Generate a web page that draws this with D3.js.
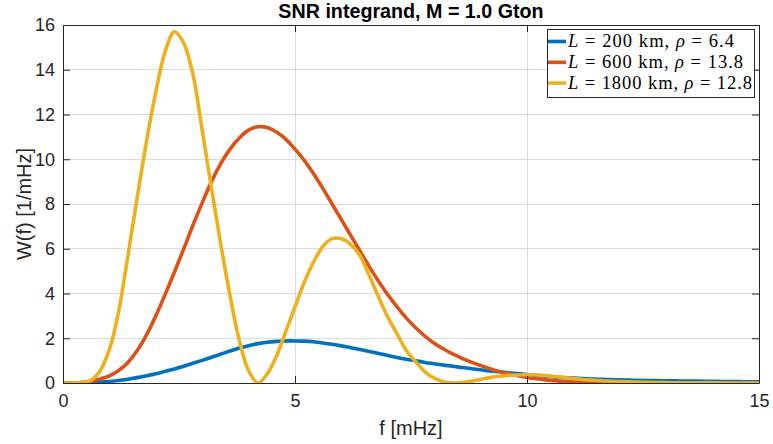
<!DOCTYPE html>
<html>
<head>
<meta charset="utf-8">
<script src="https://cdn.jsdelivr.net/npm/d3@7"></script>
<style>
  html, body { margin: 0; padding: 0; background: #fff; }
  svg { display: block; }
</style>
</head>
<body>
<svg id="chart" width="773" height="444"></svg>
<script>
// ---- data ----
const freq = d3.range(0, 76).map(i => +(i * 0.2).toFixed(1)); // 0 .. 15 mHz, step 0.2

const legendL = ["200", "600", "1800"];
const legendRho = ["6.4", "13.8", "12.8"];

const w200 = [
  0, 0, 0.005, 0.02, 0.04, 0.07, 0.11, 0.17, 0.24, 0.32,
  0.41, 0.52, 0.63, 0.75, 0.88, 1.01, 1.15, 1.29, 1.43, 1.56,
  1.67, 1.76, 1.82, 1.86, 1.88, 1.88, 1.87, 1.84, 1.79, 1.73,
  1.66, 1.58, 1.50, 1.41, 1.32, 1.23, 1.14, 1.06, 0.99, 0.92,
  0.86, 0.80, 0.75, 0.69, 0.64, 0.59, 0.54, 0.50, 0.46, 0.42,
  0.38, 0.34, 0.30, 0.27, 0.24, 0.22, 0.20, 0.18, 0.16, 0.15,
  0.14, 0.13, 0.12, 0.11, 0.105, 0.10, 0.095, 0.09, 0.085, 0.08,
  0.075, 0.07, 0.065, 0.06, 0.056, 0.052
];

const w600 = [
  0, 0, 0.02, 0.08, 0.18, 0.32, 0.56, 0.92, 1.45, 2.15,
  3.0, 3.95, 4.95, 5.98, 7.05, 8.05, 9.0, 9.8, 10.45, 10.95,
  11.3, 11.45, 11.42, 11.22, 10.9, 10.45, 9.95, 9.35, 8.7, 8.0,
  7.3, 6.6, 5.9, 5.2, 4.55, 3.95, 3.4, 2.9, 2.47, 2.1,
  1.78, 1.52, 1.3, 1.1, 0.93, 0.78, 0.64, 0.52, 0.41, 0.32,
  0.25, 0.19, 0.14, 0.10, 0.07, 0.05, 0.04, 0.03, 0.02, 0.015,
  0.01, 0.008, 0.006, 0.005, 0.004, 0.003, 0.002, 0.002, 0.001, 0.001,
  0, 0, 0, 0, 0, 0
];

const w1800 = [
  0, 0, 0.02, 0.12, 0.55, 1.5, 3.2, 5.7, 8.3, 10.8,
  13.0, 14.8, 15.7, 15.2, 13.8, 11.3, 8.7, 6.2, 3.9, 1.9,
  0.55, 0.0, 0.4, 1.2, 2.3, 3.4, 4.5, 5.4, 6.1, 6.45,
  6.45, 6.2, 5.7, 4.8, 3.85, 2.95, 2.2, 1.45, 0.95, 0.5,
  0.22, 0.06, 0.0, 0.02, 0.08, 0.16, 0.24, 0.30, 0.34, 0.36,
  0.37, 0.36, 0.33, 0.29, 0.24, 0.20, 0.16, 0.13, 0.10, 0.08,
  0.06, 0.05, 0.04, 0.03, 0.02, 0.015, 0.012, 0.01, 0.008, 0.006,
  0.004, 0.003, 0.002, 0.001, 0, 0
];

const xTicks = [0, 5, 10, 15];
const yTicks = [0, 2, 4, 6, 8, 10, 12, 14, 16];
const colors = ["#0072BD", "#D95319", "#EDB120"];

// ---- layout ----
const svg = d3.select("#chart");
const L = 63, R = 759, T = 25, B = 383;
const x = d3.scaleLinear().domain([0, 15]).range([L, R]);
const y = d3.scaleLinear().domain([0, 16]).range([B, T]);
const axisColor = "#262626";
const font = "'Liberation Sans', Arial, Helvetica, sans-serif";

// grid
const grid = svg.append("g");
grid.selectAll("line.gx").data(xTicks.slice(1, -1)).enter().append("line")
  .attr("x1", d => x(d)).attr("x2", d => x(d)).attr("y1", T).attr("y2", B)
  .attr("stroke", "#dcdcdc").attr("stroke-width", 1).attr("shape-rendering", "crispEdges");
grid.selectAll("line.gy").data(yTicks.slice(1, -1)).enter().append("line")
  .attr("x1", L).attr("x2", R).attr("y1", d => y(d)).attr("y2", d => y(d))
  .attr("stroke", "#dcdcdc").attr("stroke-width", 1).attr("shape-rendering", "crispEdges");

// lines
svg.append("clipPath").attr("id", "clip").append("rect")
  .attr("x", L).attr("y", T - 2).attr("width", R - L).attr("height", B - T + 2);
const line = d3.line().x(d => x(d[0])).y(d => y(Math.max(0, d[1])))
  .curve(d3.curveCatmullRom.alpha(0.5));
const allSeries = [w200, w600, w1800];
svg.append("g").attr("clip-path", "url(#clip)")
  .selectAll("path").data(allSeries).enter().append("path")
  .attr("d", s => line(freq.map((f, i) => [f, s[i]])))
  .attr("fill", "none")
  .attr("stroke", (d, i) => colors[i])
  .attr("stroke-width", 3.6)
  .attr("stroke-linejoin", "round");

// axes (MATLAB-like box with inward ticks)
const tickLen = 7;
const xAxisB = d3.axisBottom(x).tickValues(xTicks).tickSizeInner(-tickLen).tickSizeOuter(0).tickPadding(11);
const yAxisL = d3.axisLeft(y).tickValues(yTicks).tickSizeInner(-tickLen).tickSizeOuter(0).tickPadding(8);
const xAxisT = d3.axisTop(x).tickValues(xTicks).tickSizeInner(-tickLen).tickSizeOuter(0).tickFormat("");
const yAxisR = d3.axisRight(y).tickValues(yTicks).tickSizeInner(-tickLen).tickSizeOuter(0).tickFormat("");

function styleAxis(g) {
  g.select(".domain").attr("stroke", axisColor).attr("stroke-width", 1);
  g.selectAll(".tick line").attr("stroke", axisColor).attr("stroke-width", 1);
  g.selectAll(".tick text").attr("fill", axisColor).style("font-family", font).style("font-size", "18px");
}
svg.append("g").attr("transform", `translate(0,${B})`).call(xAxisB).call(styleAxis);
svg.append("g").attr("transform", `translate(${L},0)`).call(yAxisL).call(styleAxis);
svg.append("g").attr("transform", `translate(0,${T})`).call(xAxisT).call(styleAxis);
svg.append("g").attr("transform", `translate(${R},0)`).call(yAxisR).call(styleAxis);

// title and labels
svg.append("text").attr("x", (L + R) / 2).attr("y", 18).attr("text-anchor", "middle")
  .style("font-family", font).style("font-size", "19.7px").style("font-weight", "bold")
  .attr("fill", "#000").text("SNR integrand, M = 1.0 Gton");
svg.append("text").attr("x", (L + R) / 2).attr("y", 435).attr("text-anchor", "middle")
  .style("font-family", font).style("font-size", "20px").attr("fill", axisColor).text("f [mHz]");
svg.append("text").attr("transform", `translate(31,${(T + B) / 2}) rotate(-90)`).attr("text-anchor", "middle")
  .style("font-family", font).style("font-size", "20px").attr("fill", axisColor).text("W(f) [1/mHz]");

// legend
const lg = svg.append("g");
lg.append("rect").attr("x", 547.5).attr("y", 29.5).attr("width", 207).attr("height", 68)
  .attr("fill", "#fff").attr("stroke", axisColor).attr("stroke-width", 1);
const serif = "'Liberation Serif', 'DejaVu Serif', serif";
const legendWidths = [166, 175, 184];
allSeries.forEach((s, i) => {
  const cy = 41.5 + i * 20.8;
  lg.append("line").attr("x1", 548).attr("x2", 566).attr("y1", cy).attr("y2", cy)
    .attr("stroke", colors[i]).attr("stroke-width", 3.6);
  const t = lg.append("text").attr("x", 568).attr("y", cy + 5.5)
    .attr("textLength", legendWidths[i]).attr("lengthAdjust", "spacing")
    .style("font-family", serif).style("font-size", "18.5px").attr("fill", "#000");
  t.append("tspan").style("font-style", "italic").text("L");
  t.append("tspan").text(" = " + legendL[i] + " km, ");
  t.append("tspan").style("font-style", "italic").text("\u03C1");
  t.append("tspan").text(" = " + legendRho[i]);
});
</script>
</body>
</html>
